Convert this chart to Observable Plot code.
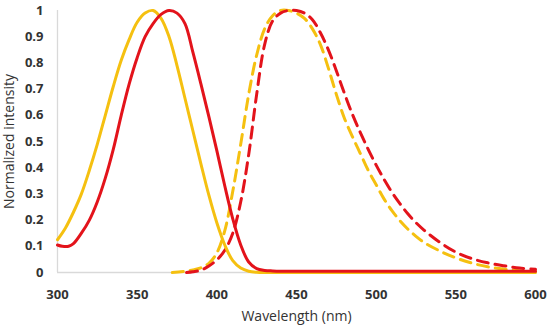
<!DOCTYPE html>
<html>
<head>
<meta charset="utf-8">
<script src="https://cdn.jsdelivr.net/npm/d3@7"></script>
<script src="https://cdn.jsdelivr.net/npm/@observablehq/plot@0.6"></script>
<style>
  html, body { margin: 0; padding: 0; background: #fff; }
  #chart { width: 550px; height: 328px; }
</style>
</head>
<body>
<div id="chart"></div>
<script>
// Solid yellow curve
const absYellowNm  = [300,305,310,315,320,325,330,335,340,345,350,355,360,365,370,375,380,385,390,395,400,405,410,415,420,425,430,450,500,550,600];
const absYellowVal = [0.125,0.17,0.23,0.30,0.39,0.49,0.60,0.71,0.81,0.89,0.955,0.99,1.0,0.97,0.90,0.79,0.665,0.54,0.415,0.295,0.19,0.105,0.045,0.017,0.005,0.001,0,0,0,0,0];
// Solid red curve
const absRedNm  = [300,303,307,310,315,320,325,330,335,340,345,350,355,360,365,370,375,380,385,390,395,400,405,410,415,420,425,430,435,440,500,550,600];
const absRedVal = [0.105,0.10,0.10,0.11,0.15,0.20,0.27,0.36,0.47,0.60,0.72,0.82,0.90,0.95,0.985,1.0,0.99,0.95,0.84,0.72,0.595,0.465,0.33,0.205,0.105,0.04,0.015,0.008,0.006,0.005,0.005,0.005,0.005];
// Dashed yellow curve
const emYellowNm  = [372,380,385,390,395,400,405,410,415,420,425,430,435,440,445,450,455,460,465,470,475,480,485,490,495,500,505,510,515,520,525,530,540,550,560,570,580,590,600];
const emYellowVal = [0,0.005,0.01,0.018,0.035,0.075,0.16,0.31,0.49,0.68,0.83,0.93,0.98,1.0,1.0,0.99,0.97,0.93,0.87,0.78,0.68,0.59,0.52,0.455,0.39,0.335,0.28,0.235,0.197,0.165,0.138,0.115,0.082,0.056,0.036,0.022,0.013,0.007,0.004];
// Dashed red curve
const emRedNm  = [381,385,390,395,400,405,410,415,420,425,430,435,440,445,450,455,460,465,470,475,480,485,490,495,500,505,510,515,520,525,530,540,550,560,570,580,590,600];
const emRedVal = [0,0.003,0.009,0.025,0.048,0.085,0.15,0.27,0.45,0.68,0.87,0.96,0.99,1.0,1.0,0.99,0.965,0.915,0.85,0.77,0.685,0.605,0.535,0.47,0.41,0.355,0.305,0.262,0.223,0.19,0.162,0.115,0.078,0.053,0.037,0.026,0.017,0.012];

const xTicks = [300,350,400,450,500,550,600];
const yTicks = [0,0.1,0.2,0.3,0.4,0.5,0.6,0.7,0.8,0.9,1];

const YELLOW = "#f5c010";
const RED = "#e3131b";

const toRows = (nm, val) => nm.map((x, i) => ({x, y: val[i]}));

const chart = Plot.plot({
  width: 550,
  height: 328,
  marginLeft: 57,
  marginRight: 15,
  marginTop: 10,
  marginBottom: 56,
  style: {fontFamily: "'Open Sans', sans-serif", background: "#fff", overflow: "visible"},
  x: {domain: [300, 600]},
  y: {domain: [0, 1]},
  marks: [
    Plot.ruleX([300], {stroke: "#d9d9d9", strokeWidth: 1.3}),
    Plot.ruleY([0], {stroke: "#d9d9d9", strokeWidth: 1.3}),
    Plot.axisX({ticks: xTicks, tickSize: 0, tickPadding: 17, fontSize: 13, fontWeight: "bold", fill: "#333",
      label: "Wavelength (nm)", labelAnchor: "center", labelArrow: "none", labelOffset: 48}),
    Plot.axisY({ticks: yTicks, tickSize: 0, tickPadding: 14, fontSize: 13, fontWeight: "bold", fill: "#333",
      tickFormat: d => String(+d.toFixed(1)),
      label: "Normalized intensity", labelAnchor: "center", labelArrow: "none", labelOffset: 53}),
    Plot.line(toRows(emYellowNm, emYellowVal), {x: "x", y: "y", stroke: YELLOW, strokeWidth: 3, curve: "catmull-rom", strokeDasharray: "11,7"}),
    Plot.line(toRows(emRedNm, emRedVal), {x: "x", y: "y", stroke: RED, strokeWidth: 3, curve: "catmull-rom", strokeDasharray: "11,7"}),
    Plot.line(toRows(absYellowNm, absYellowVal), {x: "x", y: "y", stroke: YELLOW, strokeWidth: 3, curve: "catmull-rom"}),
    Plot.line(toRows(absRedNm, absRedVal), {x: "x", y: "y", stroke: RED, strokeWidth: 3, curve: "catmull-rom"})
  ]
});
chart.querySelectorAll("[aria-label$='axis label'] text, [aria-label$='axis label']").forEach(el => {
  el.setAttribute("font-weight", "normal");
  el.setAttribute("font-size", "14");
  el.setAttribute("fill", "#333");
});
document.getElementById("chart").appendChild(chart);
</script>
</body>
</html>
